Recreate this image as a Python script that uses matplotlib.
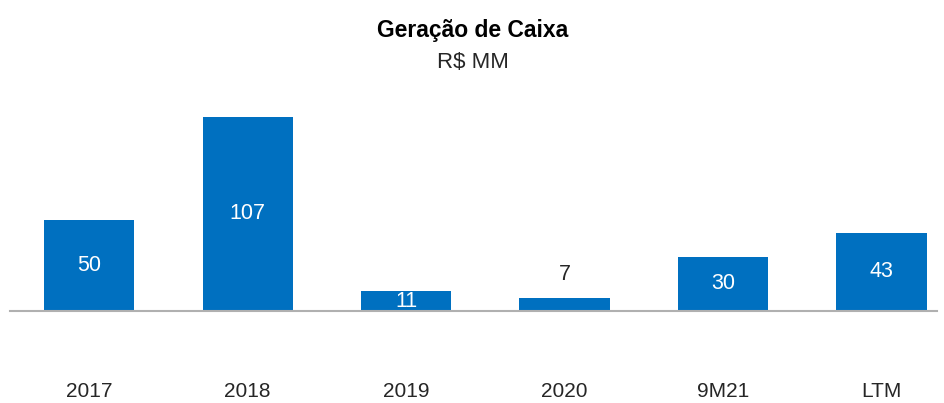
import matplotlib.pyplot as plt

# Data
categories = ['2017', '2018', '2019', '2020', '9M21', 'LTM']
values = [50, 107, 11, 7, 30, 43]

bar_color = '#0070C0'
plt.rcParams['font.family'] = ['Liberation Sans', 'DejaVu Sans']

fig = plt.figure(figsize=(9.45, 4.03), dpi=100)
ax = fig.add_axes([10 / 945, 1 - 311 / 403, 927 / 945, 218 / 403])

x = list(range(len(categories)))
ax.bar(x, values, width=0.57, color=bar_color, zorder=2)

ax.set_xlim(-0.5, 5.35)
ax.set_ylim(0, 120)

# value labels: inside the bar when it's tall enough, above otherwise
for xi, v in zip(x, values):
    if v >= 10:
        ax.text(xi, v / 2, str(v), ha='center', va='center', color='white', fontsize=15.5)
    else:
        ax.text(xi, v + 13, str(v), ha='center', va='center', color='#262626', fontsize=15.5)

for s in ['top', 'right', 'left']:
    ax.spines[s].set_visible(False)
ax.spines['bottom'].set_color('#B0B0B0')
ax.spines['bottom'].set_linewidth(1.5)
ax.set_yticks([])
ax.set_xticks(x)
ax.set_xticklabels(categories, fontsize=15, color='#262626')
ax.tick_params(axis='x', length=0, pad=51)

fig.text(0.5, 1 - 30 / 403, 'Geração de Caixa', ha='center', va='center',
         fontsize=16.5, fontweight='bold', color='black')
fig.text(0.5, 1 - 62 / 403, 'R$ MM', ha='center', va='center',
         fontsize=16, color='#262626')

fig.savefig('out.png', dpi=100)
